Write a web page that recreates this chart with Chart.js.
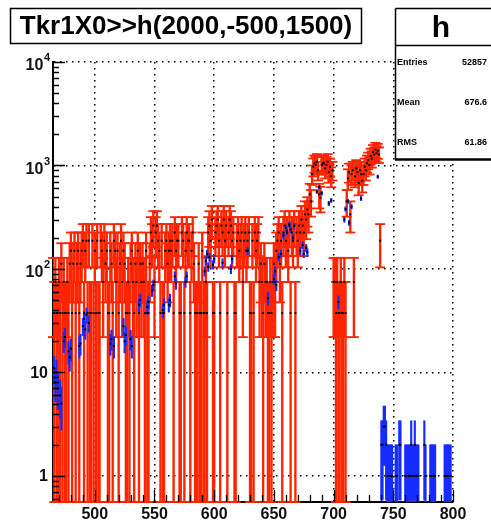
<!DOCTYPE html>
<html>
<head>
<meta charset="utf-8">
<script src="https://cdn.jsdelivr.net/npm/chart.js@4.4.1/dist/chart.umd.min.js"></script>
<style>
  html, body { margin: 0; padding: 0; background: #fff; }
  canvas { display: block; }
</style>
</head>
<body>
<canvas id="c" width="491" height="524"></canvas>
<script>
// h : Tkr1X0, 1 unit per bin
const title = "Tkr1X0>>h(2000,-500,1500)";
const histName = "h";
const statLabels = ["Entries", "Mean", "RMS"];
const statValues = ["52857", "676.6", "61.86"];

const xMin = 465, xMax = 800;
const yMin = 0.56, yMax = 10000;
const xTicks = [500, 550, 600, 650, 700, 750, 800];
const yTicks = [1, 10, 100, 1000, 10000];

// red (weighted) histogram: entries per bin starting at firstRedBin
const firstRedBin = 465;
const redWeight = 37.5;
const redCounts = [
  2,1,2,1,1,2,1,3,1,2,1,1,2,1,3,4,1,3,4,1,            // 465
  3,4,1,3,4,5,1,4,5,1,5,1,1,5,1,4,1,5,1,1,            // 485
  5,4,2,5,3,4,1,1,4,3,1,5,4,2,4,1,3,5,2,4,            // 505
  3,1,1,2,1,3,4,2,1,3,2,4,1,3,2,3,2,1,4,1,            // 525
  1,3,6,5,7,2,6,7,5,4,1,5,1,1,4,5,3,4,5,4,            // 545
  5,1,6,4,5,5,1,1,6,5,1,4,6,5,5,1,4,6,3,1,            // 565
  1,1,3,1,1,4,1,1,2,1,6,7,5,8,1,1,6,7,8,5,            // 585
  1,7,6,8,5,7,1,6,8,7,5,6,1,1,5,6,4,5,6,2,            // 605
  5,6,4,5,6,1,1,5,1,6,4,5,6,2,3,2,1,3,2,2,            // 625
  1,1,2,1,2,3,2,4,5,6,3,5,1,6,7,5,6,4,7,1,            // 645
  6,5,7,1,6,5,7,6,8,7,6,9,8,10,9,14,12,22,26,28,      // 665
  27,29,24,14,13,27,28,28,25,27,29,23,26,21,24,2,2,1,2,1, // 685
  1,2,1,1,2,1,12,20,23,9,22,24,2,21,25,23,18,24,22,19, // 705
  22,26,24,28,30,27,33,31,36,34,38,35,37,34,5         // 725
];

// blue (raw counts) histogram, only filled bins
const blueBins = [
  466,467,468,469,471,472,474,475,478,479,480,487,488,490,491,492,493,495,
  513,514,516,524,525,526,530,531,537,538,544,545,548,549,557,558,562,563,
  567,568,576,577,592,593,594,595,596,599,600,607,614,615,628,645,650,651,
  652,654,656,658,660,661,663,664,666,667,672,674,675,677,678,686,688,690,
  696,698,704,709,710,712,713,715,723,737,
  740,741,742,743,744,745,746,747,748,749,752,753,755,756,760,761,762,763,
  764,765,766,767,768,769,770,771,776,777,781,782,783,784,785,793,794,795,
  796,797,798
];
const blueCounts = [
  11,8,10,7,6,5,20,22,16,14,17,18,19,28,33,26,36,30,
  19,21,18,28,20,23,21,18,45,50,43,48,62,70,40,45,45,50,
  85,72,75,85,95,120,140,105,130,110,125,115,100,125,150,52,80,95,
  70,130,140,210,250,230,270,240,200,260,150,170,140,160,145,560,620,540,
  430,460,48,300,380,450,280,400,480,780,
  2,2,3,3,2,1,1,1,1,1,1,1,2,2,1,1,1,1,
  1,2,1,1,2,1,1,1,2,1,1,1,1,1,1,1,1,1,
  1,1,1
];

const red = 'rgb(255,36,0)';
const blue = 'rgb(22,44,255)';

const redBars = [], redCaps = [], blueBars = [], markers = [];
redCounts.forEach((n, i) => {
  if (!n) return;
  const x = firstRedBin + i;
  const v = n * redWeight, e = Math.sqrt(n) * redWeight;
  const lo = Math.max(v - e, yMin);
  redBars.push({ x, y: [lo, v + e] });
  redCaps.push({ x, y: v + e }, { x, y: lo });
  markers.push({ x, y: v });
});
blueBins.forEach((x, i) => {
  const m = blueCounts[i], e = Math.sqrt(m);
  blueBars.push({ x, y: [Math.max(m - e, yMin), m + e] });
  markers.push({ x, y: m });
});

const font = '"Liberation Sans", Arial, sans-serif';

const overlay = {
  id: 'overlay',
  afterDraw(chart) {
    const { ctx, chartArea: area } = chart;
    const xs = chart.scales.x, ys = chart.scales.y;
    ctx.save();

    // inward tick marks
    ctx.strokeStyle = '#000';
    ctx.lineWidth = 1.3;
    ctx.beginPath();
    for (let v = Math.ceil(xMin / 10) * 10; v <= xMax; v += 10) {
      const px = Math.round(xs.getPixelForValue(v)) + 0.5;
      const len = v % 50 === 0 ? 12 : 7;
      ctx.moveTo(px, area.bottom);
      ctx.lineTo(px, area.bottom - len);
    }
    for (let p = -1; p <= 4; p++) {
      for (let k = 1; k < 10; k++) {
        const v = k * Math.pow(10, p);
        if (v < yMin || v > yMax) continue;
        const py = Math.round(ys.getPixelForValue(v)) + 0.5;
        ctx.moveTo(area.left, py);
        ctx.lineTo(area.left + (k === 1 ? 12 : 6), py);
      }
    }
    ctx.stroke();

    // axis labels
    ctx.fillStyle = '#111';
    ctx.textBaseline = 'middle';
    ctx.font = 'bold 16px ' + font;
    ctx.textAlign = 'center';
    xTicks.forEach(v => ctx.fillText(String(v), xs.getPixelForValue(v), 515));
    ctx.textAlign = 'right';
    yTicks.forEach(v => {
      const py = ys.getPixelForValue(v);
      const p = Math.round(Math.log10(v));
      if (p < 2) {
        ctx.font = 'bold 16px ' + font;
        ctx.fillText(String(v), 48, py + 1);
      } else {
        ctx.font = 'bold 11px ' + font;
        const sw = ctx.measureText(String(p)).width;
        ctx.fillText(String(p), 50, py - 4);
        ctx.font = 'bold 16px ' + font;
        ctx.fillText('10', 50 - sw - 0.5, py + 4);
      }
    });

    // title box
    ctx.fillStyle = '#fff';
    ctx.fillRect(10, 8, 352, 36);
    ctx.strokeStyle = '#000';
    ctx.lineWidth = 1.5;
    ctx.strokeRect(10.5, 8.5, 351, 35);
    ctx.fillStyle = '#000';
    ctx.textAlign = 'center';
    ctx.font = 'bold 26px ' + font;
    ctx.fillText(title, 186, 27);

    // stats box
    ctx.fillStyle = '#fff';
    ctx.fillRect(395, 8, 100, 152);
    ctx.beginPath();
    ctx.moveTo(395.5, 8.5); ctx.lineTo(495, 8.5);
    ctx.moveTo(395.5, 8.5); ctx.lineTo(395.5, 160);
    ctx.moveTo(395.5, 45.5); ctx.lineTo(495, 45.5);
    ctx.stroke();
    ctx.lineWidth = 2.5;
    ctx.beginPath();
    ctx.moveTo(395, 159.5); ctx.lineTo(495, 159.5);
    ctx.stroke();
    ctx.fillStyle = '#000';
    ctx.font = 'bold 30px ' + font;
    ctx.fillText(histName, 441, 29);
    ctx.font = 'bold 9px ' + font;
    statLabels.forEach((s, i) => {
      const ty = 63 + i * 40;
      ctx.textAlign = 'left';
      ctx.fillText(s, 397, ty);
      ctx.textAlign = 'right';
      ctx.fillText(statValues[i], 487, ty);
    });
    ctx.restore();
  }
};

new Chart(document.getElementById('c'), {
  type: 'bar',
  data: {
    datasets: [
      { type: 'bar', data: redBars, backgroundColor: red, barThickness: 1.7, grouped: false, order: 4 },
      { type: 'scatter', data: redCaps, pointStyle: 'line', pointRadius: 5, borderColor: red,
        borderWidth: 1.8, clip: false, order: 3 },
      { type: 'bar', data: blueBars, backgroundColor: blue, barThickness: 1.5, grouped: false, order: 2 },
      { type: 'scatter', data: markers, pointStyle: 'rect', pointRadius: 1.4, borderWidth: 0,
        backgroundColor: '#000', order: 1 }
    ]
  },
  options: {
    responsive: false,
    animation: false,
    devicePixelRatio: 1,
    layout: { padding: { left: 53, top: 62, right: 38, bottom: 22 } },
    plugins: { legend: { display: false }, tooltip: { enabled: false } },
    scales: {
      x: {
        type: 'linear', min: xMin, max: xMax, offset: false, z: 1,
        afterBuildTicks: s => { s.ticks = xTicks.map(v => ({ value: v })); },
        ticks: { display: false },
        grid: { color: '#000', lineWidth: 1.5, drawTicks: false, offset: false },
        border: { display: true, color: '#000', width: 2, dash: [1.5, 4.5] }
      },
      y: {
        type: 'logarithmic', min: yMin, max: yMax, z: 1,
        afterBuildTicks: s => { s.ticks = yTicks.map(v => ({ value: v })); },
        ticks: { display: false },
        grid: { color: '#000', lineWidth: 1.5, drawTicks: false },
        border: { display: true, color: '#000', width: 2, dash: [1.5, 4.5] }
      }
    }
  },
  plugins: [overlay]
});
</script>
</body>
</html>
